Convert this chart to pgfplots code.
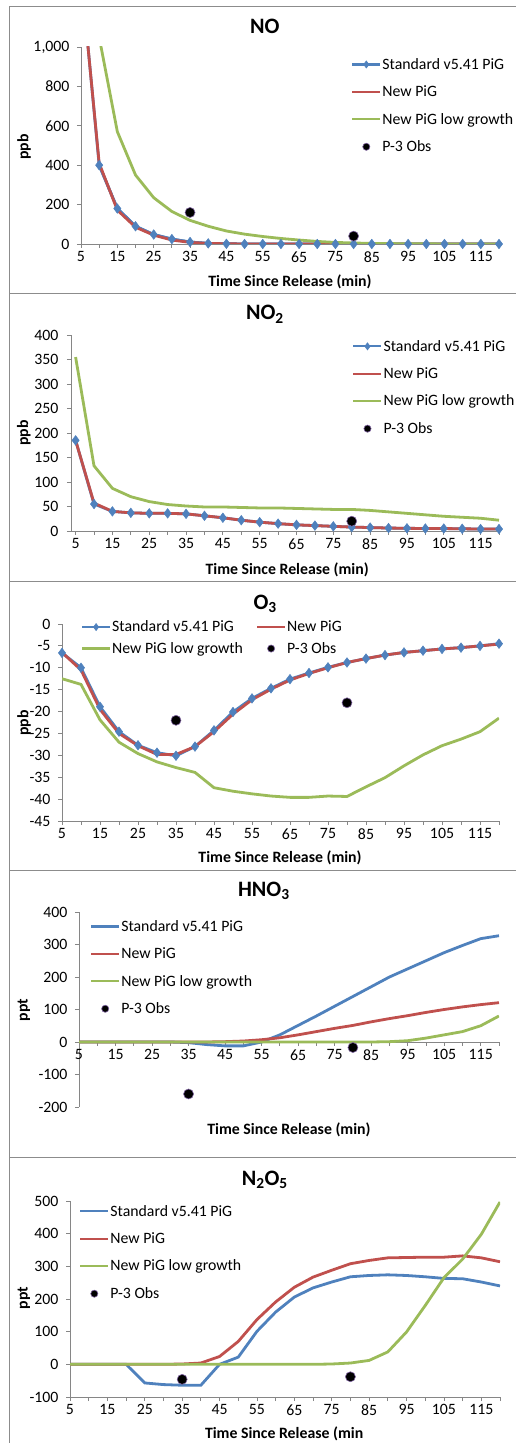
\documentclass[border=0pt]{standalone}
\usepackage{fontspec}
\setmainfont{Carlito}
\usepackage{pgfplots}
\usepackage{pgfplotstable}
\pgfplotsset{compat=1.18}

\definecolor{stdblue}{HTML}{4F81BD}
\definecolor{newred}{HTML}{C0504D}
\definecolor{lowgreen}{HTML}{9BBB59}
\definecolor{obsedge}{HTML}{8064A2}
\definecolor{axgrey}{HTML}{868686}
\definecolor{framegrey}{HTML}{8C8C8C}

% t = minutes since release; std = Standard v5.41 PiG, new = New PiG, low = New PiG low growth
\pgfplotstableread{
t   std   new   low
5   1380  1370  2500
10  400   410   1050
15  180   172   570
20  90    85    350
25  48    45    235
30  25    20    165
35  10    8     120
40  3     3     90
45  1     1     66
50  0     0     50
55  0     0     38
60  0     0     28
65  0     0     20
70  0     0     13
75  0     0     8
80  0     0     5
85  0     0     3
90  0     0     2
95  0     0     1
100 0     0     1
105 0     0     0
110 0     0     0
115 0     0     0
120 0     0     0
}\NOdata

\pgfplotstableread{
t   std   new   low
5   185   185   355
10  55    57    133
15  40    40    87
20  37    37    70
25  36    36    60
30  36    36    54
35  35    35    51
40  31    31    49
45  27    27    49
50  22    22    48
55  18    18    47
60  15    15    47
65  12.5  12.5  46
70  11    11    45
75  9.5   9.5   44
80  8     8     44
85  7     7     42
90  6     6     39
95  5.5   5.5   36
100 5     5     33
105 5     5     30
110 4.5   4.5   28
115 4     4     26
120 4     4     22
}\NOtwodata

\pgfplotstableread{
t   std    new    low
5   -6.6   -6.5   -12.5
10  -10    -10.5  -13.8
15  -18.9  -19.5  -21.9
20  -24.6  -25    -27
25  -27.7  -27.8  -29.6
30  -29.4  -29.8  -31.5
35  -30.1  -29.8  -32.8
40  -28    -28    -33.9
45  -24.3  -24.6  -37.4
50  -20.1  -20.6  -38.2
55  -17    -17.3  -38.8
60  -14.7  -14.9  -39.3
65  -12.6  -12.8  -39.6
70  -11.2  -11.3  -39.6
75  -9.9   -10    -39.3
80  -8.8   -8.8   -39.4
85  -7.9   -7.9   -37.2
90  -7.1   -7.1   -35.1
95  -6.5   -6.5   -32.4
100 -6.1   -6.1   -29.9
105 -5.7   -5.7   -27.8
110 -5.4   -5.4   -26.3
115 -5.0   -5.0   -24.6
120 -4.5   -4.6   -21.5
}\Othreedata

\pgfplotstableread{
t   std   new   low
5   0     0     0
10  0     0     0
15  0     0     0
20  0     0     0
25  0     0     0
30  0     0     0
35  -2    0     0
40  -8    0     0
45  -12   1     0
50  -12   3     0
55  0     7     0
60  22    13    0
65  51    22    0
70  80    32    0
75  110   42    0
80  140   51    0
85  170   62    0
90  200   72    1
95  225   81    4
100 250   91    12
105 275   100   22
110 297   108   32
115 318   115   50
120 327   121   80
}\HNOthreedata

\pgfplotstableread{
t   std   new   low
5   0     0     0
10  0     0     0
15  0     0     0
20  0     0     0
25  -57   0     0
30  -62   0     0
35  -64   1     0
40  -64   4     0
45  0     24    0
50  22    70    0
55  101   137   0
60  160   191   0
65  206   236   0
70  234   267   0
75  252   288   1
80  268   308   4
85  272   318   12
90  274   326   38
95  272   327   99
100 268   328   180
105 263   328   265
110 262   332   322
115 252   326   398
120 240   314   497
}\NtwoOfivedata

\pgfplotsset{
  panel/.style={
    scale only axis,
    axis x line*=bottom, axis y line*=left,
    axis line style={axgrey, line width=0.8pt, -},
    tick style={axgrey, line width=0.8pt},
    tick align=outside, major tick length=4pt,
    xmin=5, xmax=120, xtick={5,10,...,120},
    xticklabels={5,,15,,25,,35,,45,,55,,65,,75,,85,,95,,105,,115,},
    tick label style={font=\fontsize{15.8}{18}\selectfont, black},
    yticklabel style={xshift=-4pt},
    /pgf/number format/assume math mode=true,
    scaled y ticks=false,
    title style={font=\bfseries\fontsize{22}{24}\selectfont, anchor=center},
    xlabel={Time Since Release (min)},
    label style={font=\bfseries\fontsize{15.8}{18}\selectfont},
    ylabel style={anchor=center},
    xlabel style={anchor=center},
    legend style={draw=none, fill=none, inner sep=0pt, anchor=north west,
      font=\fontsize{15.8}{18}\selectfont, row sep=13pt,
      nodes={inner sep=1pt}},
    legend cell align=left,
    legend image code/.code={\draw[mark repeat=2, mark phase=2, #1, line width=2.2pt, mark size=3.6pt]
      plot coordinates {(0pt,0pt) (14pt,0pt) (28pt,0pt)};},
    every axis plot/.append style={line width=2.8pt},
  },
  stdline/.style={stdblue, no marks},
  stdmark/.style={stdblue, mark=diamond*, mark size=4.8pt, mark options={solid, line width=0.5pt, fill=stdblue}},
  newline/.style={newred, no marks},
  lowline/.style={lowgreen, no marks},
  obs/.style={only marks, mark=*, mark size=5pt, mark options={fill=black, draw=obsedge, line width=0.6pt}},
}

\begin{document}
\begin{tikzpicture}[x=1pt, y=1pt]
\path[use as bounding box] (0,0) rectangle (516,1443);

% chart frames
\begin{scope}[framegrey, line width=0.8pt]
  \draw (9,0) -- (9,1437) -- (516,1437);
  \draw (9,1150) -- (516,1150);
  \draw (9,862) -- (516,862);
  \draw (9,573) -- (516,573);
  \draw (9,286) -- (516,286);
\end{scope}

% NO
\begin{axis}[panel, at={(81pt,1199pt)}, anchor=south west,
    width=418pt, height=197pt,
    ymin=0, ymax=1000, ytick={0,200,...,1000},
    title={NO}, title style={at={(axis description cs:0.44,1.076)}},
    ylabel={ppb}, ylabel style={at={(axis description cs:-0.136,0.492)}},
    xlabel style={at={(axis description cs:0.5,-0.193)}},
    legend style={at={(axis description cs:0.646,0.949)}}]
  \addplot[stdline, forget plot] table[x=t, y=std] {\NOdata};
  \addplot[stdmark, skip coords between index={0}{1}] table[x=t, y=std] {\NOdata};
  \addplot[newline] table[x=t, y=new] {\NOdata};
  \addplot[lowline] table[x=t, y=low] {\NOdata};
  \addplot[obs] coordinates {(35,160) (80,40)};
  \legend{Standard v5.41 PiG, New PiG, New PiG low growth, P-3 Obs}
\end{axis}

% NO2
\begin{axis}[panel, at={(71pt,912pt)}, anchor=south west,
    width=428pt, height=196pt, xmin=3.75,
    yticklabel style={xshift=-1pt},
    ymin=0, ymax=400, ytick={0,50,...,400},
    title={NO\textsubscript{2}}, title style={at={(axis description cs:0.453,1.075)}},
    ylabel={ppb}, ylabel style={at={(axis description cs:-0.110,0.5)}},
    xlabel style={at={(axis description cs:0.505,-0.199)}},
    legend style={at={(axis description cs:0.657,0.98)}}]
  \addplot[stdmark] table[x=t, y=std] {\NOtwodata};
  \addplot[newline] table[x=t, y=new] {\NOtwodata};
  \addplot[lowline] table[x=t, y=low] {\NOtwodata};
  \addplot[obs] coordinates {(80,20)};
  \legend{Standard v5.41 PiG, New PiG, New PiG low growth, P-3 Obs}
\end{axis}

% O3
\begin{axis}[panel, at={(62pt,622pt)}, anchor=south west,
    width=437pt, height=197pt,
    ymin=-45, ymax=0, ytick={-45,-40,...,0},
    title={O\textsubscript{3}}, title style={at={(axis description cs:0.465,1.07)}},
    ylabel={ppb}, ylabel style={at={(axis description cs:-0.087,0.497)}},
    xlabel style={at={(axis description cs:0.499,-0.188)}},
    legend columns=2,
    legend style={at={(axis description cs:0.043,1.022)}, row sep=7pt,
      /tikz/every even column/.append style={column sep=12pt}}]
  \addplot[stdmark] table[x=t, y=std] {\Othreedata};
  \addplot[newline] table[x=t, y=new] {\Othreedata};
  \addplot[lowline] table[x=t, y=low] {\Othreedata};
  \addplot[obs] coordinates {(35,-22) (80,-18)};
  \legend{Standard v5.41 PiG, New PiG, New PiG low growth, P-3 Obs}
\end{axis}

% HNO3
\begin{axis}[panel, at={(79pt,336pt)}, anchor=south west,
    width=420pt, height=195pt, axis x line*=middle, hide obscured x ticks=false,
    ymin=-200, ymax=400, ytick={-200,-100,...,400},
    title={HNO\textsubscript{3}}, title style={at={(axis description cs:0.44,1.078)}},
    ylabel={ppt}, ylabel style={at={(axis description cs:-0.131,0.497)}},
    xlabel style={at={(axis description cs:0.5,-0.118)}},
    legend style={at={(axis description cs:0.026,0.964)}}]
  \addplot[stdline] table[x=t, y=std] {\HNOthreedata};
  \addplot[newline] table[x=t, y=new] {\HNOthreedata};
  \addplot[lowline] table[x=t, y=low] {\HNOthreedata};
  \addplot[obs] coordinates {(35,-160) (80,-17)};
  \legend{Standard v5.41 PiG, New PiG, New PiG low growth, P-3 Obs}
\end{axis}

% N2O5
\begin{axis}[panel, at={(70pt,46pt)}, anchor=south west,
    width=430pt, height=196pt,
    ymin=-100, ymax=500, ytick={-100,0,...,500},
    title={N\textsubscript{2}O\textsubscript{5}}, title style={at={(axis description cs:0.453,1.078)}},
    ylabel={ppt}, ylabel style={at={(axis description cs:-0.107,0.505)}},
    xlabel={Time Since Release (min},
    xlabel style={at={(axis description cs:0.498,-0.189)}},
    legend style={at={(axis description cs:0.021,0.985)}}]
  \addplot[stdline] table[x=t, y=std] {\NtwoOfivedata};
  \addplot[newline] table[x=t, y=new] {\NtwoOfivedata};
  \addplot[lowline] table[x=t, y=low] {\NtwoOfivedata};
  \addplot[obs] coordinates {(35,-46) (80,-38)};
  \legend{Standard v5.41 PiG, New PiG, New PiG low growth, P-3 Obs}
\end{axis}
\end{tikzpicture}
\end{document}
